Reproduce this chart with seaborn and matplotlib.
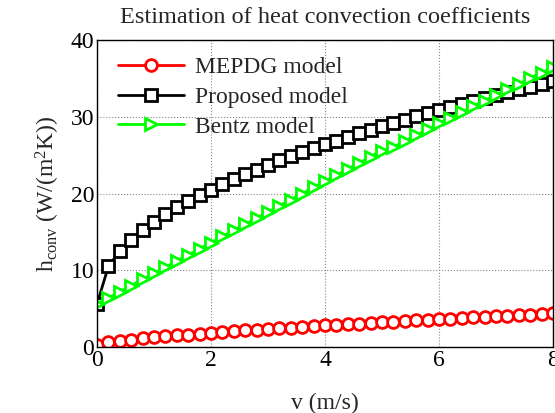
import numpy as np
import pandas as pd
import matplotlib
matplotlib.use('Agg')
import matplotlib.pyplot as plt
import seaborn as sns

# wind speed (m/s), one point every 0.2 m/s
v = [0.0, 0.2, 0.4, 0.6, 0.8, 1.0, 1.2, 1.4, 1.6, 1.8, 2.0, 2.2, 2.4, 2.6, 2.8,
     3.0, 3.2, 3.4, 3.6, 3.8, 4.0, 4.2, 4.4, 4.6, 4.8, 5.0, 5.2, 5.4, 5.6, 5.8,
     6.0, 6.2, 6.4, 6.6, 6.8, 7.0, 7.2, 7.4, 7.6, 7.8, 8.0]

mepdg = [0.30, 0.61, 0.80, 0.96, 1.11, 1.25, 1.38, 1.50, 1.62, 1.73, 1.84, 1.95,
         2.05, 2.15, 2.25, 2.35, 2.44, 2.54, 2.63, 2.72, 2.81, 2.89, 2.98, 3.06,
         3.15, 3.23, 3.31, 3.39, 3.47, 3.55, 3.63, 3.71, 3.78, 3.86, 3.94, 4.01,
         4.08, 4.16, 4.23, 4.30, 4.37]

proposed = [5.6, 10.5, 12.5, 14.0, 15.2, 16.3, 17.3, 18.2, 19.0, 19.8, 20.5, 21.2,
            21.9, 22.5, 23.1, 23.7, 24.3, 24.9, 25.4, 25.9, 26.4, 26.9, 27.4, 27.9,
            28.3, 28.8, 29.2, 29.6, 30.1, 30.5, 30.9, 31.3, 31.7, 32.1, 32.4, 32.8,
            33.2, 33.6, 33.9, 34.3, 34.6]

bentz = [5.6, 6.4, 7.2, 8.0, 8.8, 9.6, 10.4, 11.2, 12.0, 12.8, 13.6, 14.4, 15.2,
         16.0, 16.8, 17.6, 18.4, 19.2, 20.0, 20.8, 21.6, 22.4, 23.2, 24.0, 24.8,
         25.6, 26.05, 26.83, 27.60, 28.37, 29.13, 29.88, 30.63, 31.38, 32.11,
         32.85, 33.58, 34.30, 35.02, 35.74, 36.45]

x_ticks = [0, 2, 4, 6, 8]
y_ticks = [0, 10, 20, 30, 40]

sns.set_style('white')
plt.rcParams['font.family'] = ['Liberation Serif', 'DejaVu Serif']
plt.rcParams['mathtext.fontset'] = 'custom'
plt.rcParams['mathtext.rm'] = 'Liberation Serif'
plt.rcParams['mathtext.it'] = 'Liberation Serif:italic'

fig = plt.figure(figsize=(5.55, 4.13), dpi=100)
ax = fig.add_axes([97 / 555, (413 - 347) / 413, 456 / 555, 307 / 413])

# three models
sns.lineplot(x=v, y=mepdg, ax=ax, color='red', linewidth=2, marker='o',
             markersize=8.5, markerfacecolor='white', markeredgecolor='red',
             markeredgewidth=2, label='MEPDG model')
sns.lineplot(x=v, y=proposed, ax=ax, color='black', linewidth=2, marker='s',
             markersize=8.5, markerfacecolor='white', markeredgecolor='black',
             markeredgewidth=2, label='Proposed model')
sns.lineplot(x=v, y=bentz, ax=ax, color='#00ff00', linewidth=2, marker='>',
             markersize=8.5, markerfacecolor='white', markeredgecolor='#00ff00',
             markeredgewidth=2, label='Bentz model')

ax.set_xlim(0, 8)
ax.set_ylim(0, 40)
ax.set_xticks(x_ticks)
ax.set_yticks(y_ticks)
ax.tick_params(direction='in', labelsize=17, length=4, colors='black', pad=2)
ax.grid(True, linestyle=':', color='#888888', linewidth=0.8)
for s in ax.spines.values():
    s.set_color('black')
    s.set_linewidth(1)

ax.set_title('Estimation of heat convection coefficients', fontsize=17.5, pad=12)
ax.set_xlabel('v (m/s)', fontsize=17, labelpad=16)
ax.set_ylabel(r'h$_{\mathrm{conv}}$ (W/(m$^{2}$K))', fontsize=17, labelpad=6)

leg = ax.legend(loc='upper left', bbox_to_anchor=(0.01, 1.0), fontsize=17,
                frameon=False, handlelength=2.8, borderaxespad=0.3,
                labelspacing=0.35, handletextpad=0.45)

fig.savefig('out.png', dpi=100)
